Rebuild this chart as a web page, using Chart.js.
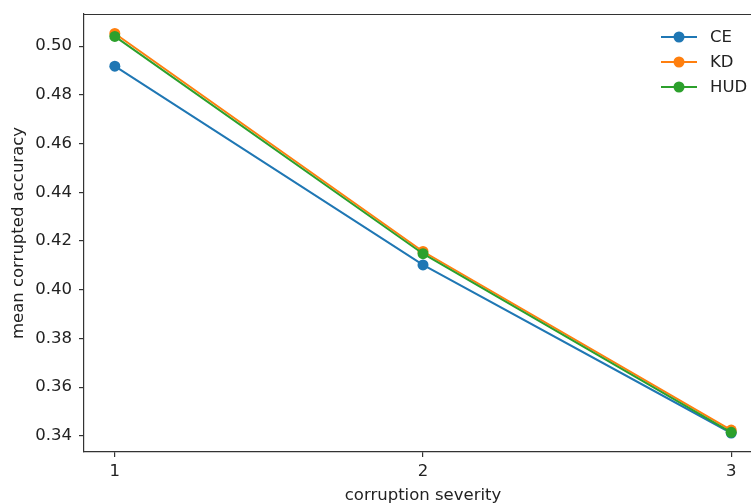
<!DOCTYPE html>
<html>
<head>
<meta charset="utf-8">
<script src="https://cdn.jsdelivr.net/npm/chart.js@4/dist/chart.umd.min.js"></script>
<style>
  html, body { margin: 0; padding: 0; background: #fff; overflow: hidden; }
  #wrap { width: 762px; height: 504px; position: relative; }
</style>
</head>
<body>
<div id="wrap"><canvas id="acc_chart"></canvas></div>
<script>
// values
const severities = [1, 2, 3];
const ce_acc = [0.4918, 0.4102, 0.3412];
const kd_acc = [0.5052, 0.4157, 0.3424];
const hud_acc = [0.5040, 0.4148, 0.3415];
const series_names = ['CE', 'KD', 'HUD'];
const colours = ['#1f77b4', '#ff7f0e', '#2ca02c'];
const y_ticks = [0.34, 0.36, 0.38, 0.40, 0.42, 0.44, 0.46, 0.48, 0.50];
const x_ticks = [1, 2, 3];

const font = { family: 'DejaVu Sans', size: 16.5 };
const title_font = { family: 'DejaVu Sans', size: 16.5, lineHeight: 1 };

function toPoints(vals) {
    return severities.map(function (s, i) { return { x: s, y: vals[i] }; });
}

const all_series = [ce_acc, kd_acc, hud_acc];
const datasets = [];
for (var i = 0; i < all_series.length; i++) {
    datasets.push({
        label: series_names[i],
        data: toPoints(all_series[i]),
        borderColor: colours[i],
        backgroundColor: colours[i],
        borderWidth: 2,
        pointRadius: 5.5,
        pointHoverRadius: 5.5,
        pointBorderWidth: 0,
        order: all_series.length - i,
    });
}

// top spine + matplotlib style legend
const extras = {
    id: 'extras',
    afterDraw(chart) {
        const ctx = chart.ctx;
        const a = chart.chartArea;
        ctx.save();
        ctx.strokeStyle = '#333';
        ctx.lineWidth = 1.2;
        ctx.beginPath();
        ctx.moveTo(a.left, a.top + 0.5);
        ctx.lineTo(a.right, a.top + 0.5);
        ctx.stroke();

        ctx.font = '16.5px "DejaVu Sans"';
        ctx.textBaseline = 'middle';
        chart.data.datasets.forEach(function (ds, k) {
            const y = 37 + k * 25;
            ctx.strokeStyle = ds.borderColor;
            ctx.lineWidth = 2;
            ctx.beginPath();
            ctx.moveTo(661, y);
            ctx.lineTo(697, y);
            ctx.stroke();
            ctx.fillStyle = ds.borderColor;
            ctx.beginPath();
            ctx.arc(679, y, 5.5, 0, Math.PI * 2);
            ctx.fill();
            ctx.fillStyle = '#222';
            ctx.fillText(ds.label, 710, y + 1);
        });
        ctx.restore();
    }
};

const canvas = document.getElementById('acc_chart');
new Chart(canvas, {
    type: 'line',
    data: { datasets: datasets },
    options: {
        responsive: true,
        maintainAspectRatio: false,
        animation: false,
        layout: { autoPadding: false, padding: { top: 14, right: 0, left: 0, bottom: 0 } },
        plugins: { legend: { display: false }, tooltip: { enabled: false } },
        scales: {
            x: {
                type: 'linear',
                min: 0.9,
                max: 3.1,
                afterBuildTicks: function (axis) { axis.ticks = x_ticks.map(function (v) { return { value: v }; }); },
                afterFit: function (axis) { axis.height = 52; axis.paddingLeft = 0; axis.paddingRight = 0; },
                ticks: { color: '#222', font: font, padding: 5, maxRotation: 0, callback: function (v) { return String(v); } },
                grid: { drawOnChartArea: false, tickLength: 5, color: '#333', lineWidth: 1.2 },
                border: { color: '#333', width: 1.2 },
                title: { display: true, text: 'corruption severity', color: '#222', font: title_font, padding: { top: 0, bottom: 0 } },
            },
            y: {
                min: 0.3334,
                max: 0.5132,
                afterBuildTicks: function (axis) { axis.ticks = y_ticks.map(function (v) { return { value: v }; }); },
                afterFit: function (axis) { axis.width = 84; axis.paddingTop = 0; axis.paddingBottom = 0; },
                ticks: { color: '#222', font: font, padding: 7, callback: function (v) { return v.toFixed(2); } },
                grid: { drawOnChartArea: false, tickLength: 5, color: '#333', lineWidth: 1.2 },
                border: { color: '#333', width: 1.2 },
                title: { display: true, text: 'mean corrupted accuracy', color: '#222', font: title_font, padding: { top: 10, bottom: 0 } },
            }
        }
    },
    plugins: [extras]
});
</script>
</body>
</html>
